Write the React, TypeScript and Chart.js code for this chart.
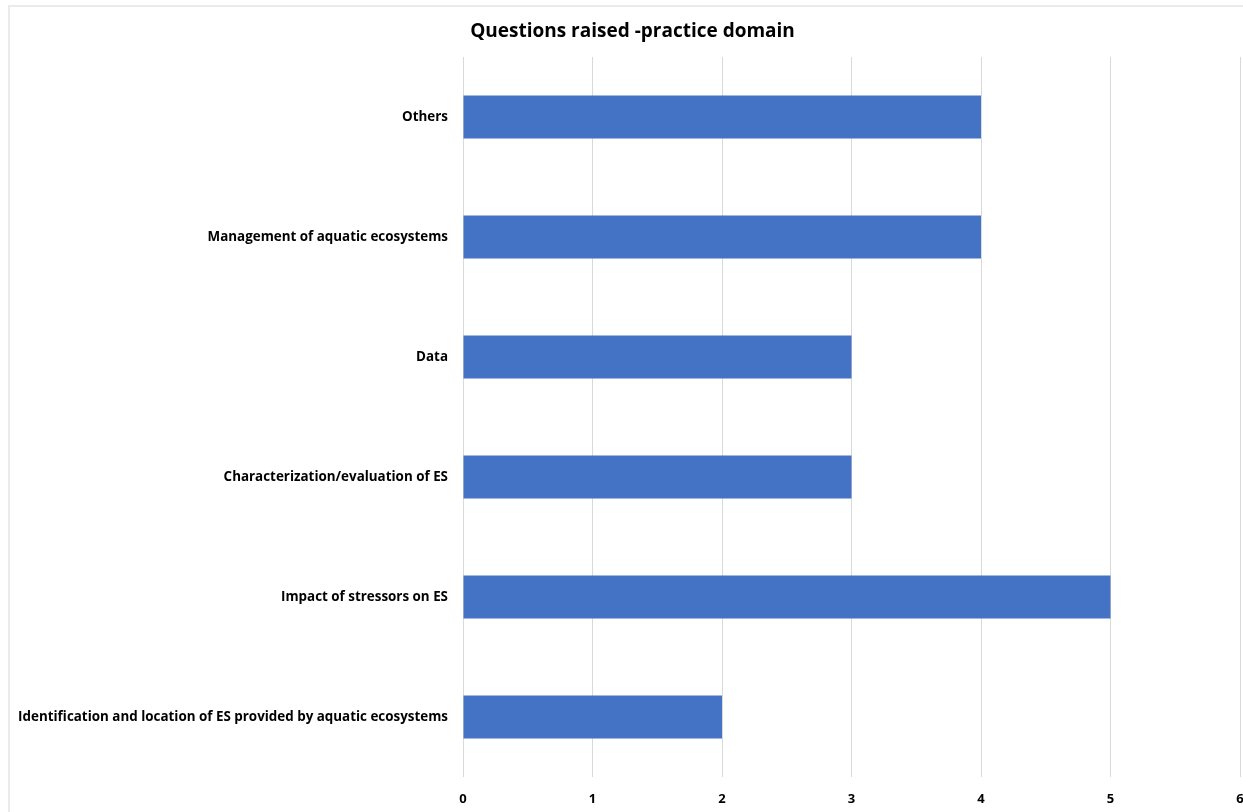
import React, { useEffect, useRef } from "react";
import { Chart, registerables } from "chart.js";

Chart.register(...registerables);

const categories = [
  "Others",
  "Management of aquatic ecosystems",
  "Data",
  "Characterization/evaluation of ES",
  "Impact of stressors on ES",
  "Identification and location of ES provided by aquatic ecosystems",
];
const values = [4, 4, 3, 3, 5, 2];
const xTicks = [0, 1, 2, 3, 4, 5, 6];
const titleText = "Questions raised -practice domain";

const FONT = "'Open Sans', Lato, sans-serif";

// Shift the title block so it is centred like the original (over the framed chart box)
const titleShift = {
  id: "titleShift",
  afterLayout(chart: any) {
    const tb = chart.titleBlock;
    if (tb) {
      tb.left = 25;
    }
  },
};

export default function App() {
  const ref = useRef<HTMLCanvasElement | null>(null);
  useEffect(() => {
    if (!ref.current) return;
    const chart = new Chart(ref.current, {
      type: "bar",
      data: {
        labels: categories,
        datasets: [
          {
            data: values,
            backgroundColor: "#4472C4",
            barPercentage: 0.6,
            categoryPercentage: 0.6,
          },
        ],
      },
      plugins: [titleShift],
      options: {
        indexAxis: "y",
        responsive: false,
        animation: false,
        layout: { padding: { left: 0, right: 25, top: 0, bottom: 0 } },
        plugins: {
          legend: { display: false },
          tooltip: { enabled: false },
          title: {
            display: true,
            text: titleText,
            color: "#000",
            font: { family: FONT, size: 19, weight: "bold" },
            padding: { top: 20, bottom: 14.2 },
          },
        },
        scales: {
          x: {
            min: 0,
            max: 6,
            afterBuildTicks: (s: any) => {
              s.ticks = xTicks.map((v) => ({ value: v }));
            },
            afterFit: (s: any) => {
              s.height = 35;
            },
            grid: { color: "#d9d9d9", drawTicks: false },
            border: { display: false },
            ticks: {
              padding: 14,
              color: "#000",
              font: { family: FONT, size: 13, weight: "bold" },
            },
          },
          y: {
            afterFit: (s: any) => {
              s.width = 463;
            },
            grid: { display: false, drawTicks: false },
            border: { display: false },
            ticks: {
              padding: 15,
              color: "#000",
              font: { family: FONT, size: 13.4, weight: "bold" },
            },
          },
        },
      },
    });
    return () => chart.destroy();
  }, []);
  return (
    <div
      style={{
        position: "fixed",
        left: 0,
        top: 0,
        width: 1243,
        height: 812,
        overflow: "hidden",
        background: "#fff",
      }}
    >
      <div
        style={{
          position: "absolute",
          left: 8,
          top: 5,
          width: 1260,
          height: 840,
          border: "2px solid #ebebeb",
          boxSizing: "border-box",
        }}
      />
      <canvas
        ref={ref}
        width={1265}
        height={812}
        style={{ position: "absolute", left: 0, top: 0, width: 1265, height: 812 }}
      />
    </div>
  );
}
